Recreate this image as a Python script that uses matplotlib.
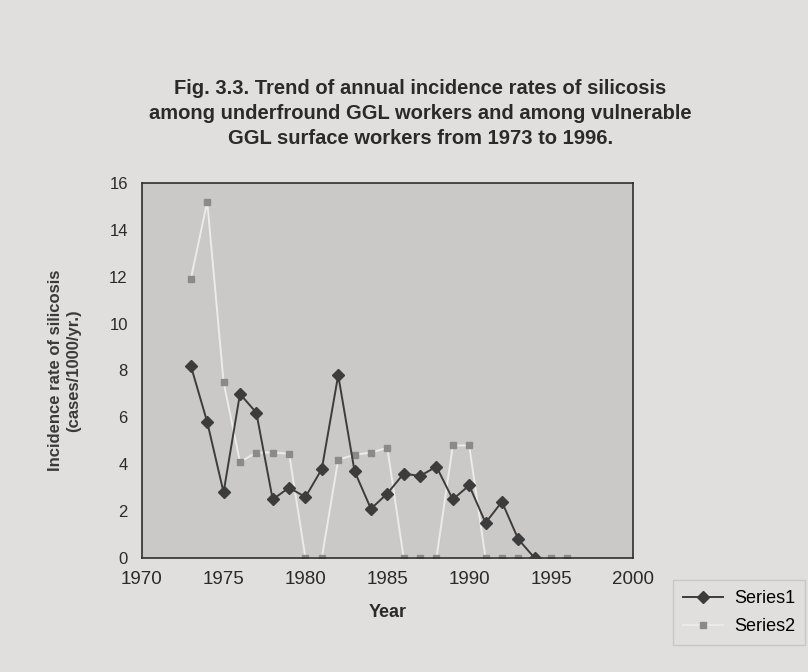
import numpy as np
import matplotlib.pyplot as plt

plt.rcParams['font.family'] = ['Liberation Sans', 'DejaVu Sans']

# Series 1: underground GGL workers
years1 = [1973, 1974, 1975, 1976, 1977, 1978, 1979, 1980, 1981, 1982, 1983,
          1984, 1985, 1986, 1987, 1988, 1989, 1990, 1991, 1992, 1993, 1994]
series1 = [8.2, 5.8, 2.8, 7.0, 6.2, 2.5, 3.0, 2.6, 3.8, 7.8, 3.7,
           2.1, 2.75, 3.6, 3.5, 3.9, 2.5, 3.1, 1.5, 2.4, 0.8, 0.0]

# Series 2: vulnerable GGL surface workers
years2 = [1973, 1974, 1975, 1976, 1977, 1978, 1979, 1980, 1981, 1982, 1983, 1984,
          1985, 1986, 1987, 1988, 1989, 1990, 1991, 1992, 1993, 1994, 1995, 1996]
series2 = [11.9, 15.2, 7.5, 4.1, 4.5, 4.5, 4.45, 0.0, 0.0, 4.2, 4.4, 4.5,
           4.7, 0.0, 0.0, 0.0, 4.8, 4.8, 0.0, 0.0, 0.0, 0.0, 0.0, 0.0]

x_ticks = [1970, 1975, 1980, 1985, 1990, 1995, 2000]
y_ticks = [0, 2, 4, 6, 8, 10, 12, 14, 16]

page_bg = '#e1dfdd'
plot_bg = '#cbc9c8'

fig = plt.figure(figsize=(8.08, 6.72), dpi=100)
fig.patch.set_facecolor(page_bg)

ax = fig.add_axes([0.1754, 0.1696, 0.6079, 0.5582])
ax.set_facecolor(plot_bg)

# Series 2 first so Series 1 sits on top
ax.plot(years2, series2, color='#ecebea', linewidth=1.4, marker='s',
        markersize=5, markerfacecolor='#8a8a8a', markeredgecolor='#8a8a8a',
        label='Series2', zorder=2)
ax.plot(years1, series1, color='#3c3c3c', linewidth=1.4, marker='D',
        markersize=6, markerfacecolor='#3c3c3c', markeredgecolor='#3c3c3c',
        label='Series1', zorder=3)

ax.set_xlim(1970, 2000)
ax.set_ylim(0, 16)
ax.set_xticks(x_ticks)
ax.set_yticks(y_ticks)
ax.tick_params(axis='x', length=0, labelsize=13.5, colors='#2a2a2a', pad=9)
ax.tick_params(axis='y', length=0, labelsize=12, colors='#2a2a2a', pad=10)
for s in ax.spines.values():
    s.set_color('#2e2e2e')
    s.set_linewidth(1.2)

ax.set_xlabel('Year', fontsize=13, fontweight='bold', color='#2a2a2a', labelpad=12)
ax.set_ylabel('Incidence rate of silicosis\n(cases/1000/yr.)', fontsize=12,
              fontweight='bold', color='#3a3a3a', labelpad=20, linespacing=1.25)

fig.text(0.52, 0.831,
         'Fig. 3.3. Trend of annual incidence rates of silicosis\n'
         'among underfround GGL workers and among vulnerable\n'
         'GGL surface workers from 1973 to 1996.',
         ha='center', va='center', fontsize=14.5, fontweight='bold',
         color='#2a2a2a', linespacing=1.4)

handles, labels = ax.get_legend_handles_labels()
leg = fig.legend(handles[::-1], labels[::-1], loc='lower right',
                 bbox_to_anchor=(0.996, 0.04), borderaxespad=0, fontsize=13,
                 frameon=True, fancybox=False, handlelength=2.2,
                 handletextpad=0.6, labelspacing=0.6, borderpad=0.55)
leg.get_frame().set_facecolor(page_bg)
leg.get_frame().set_edgecolor('#c4c2c0')

fig.savefig('out.png', dpi=100, facecolor=page_bg)
